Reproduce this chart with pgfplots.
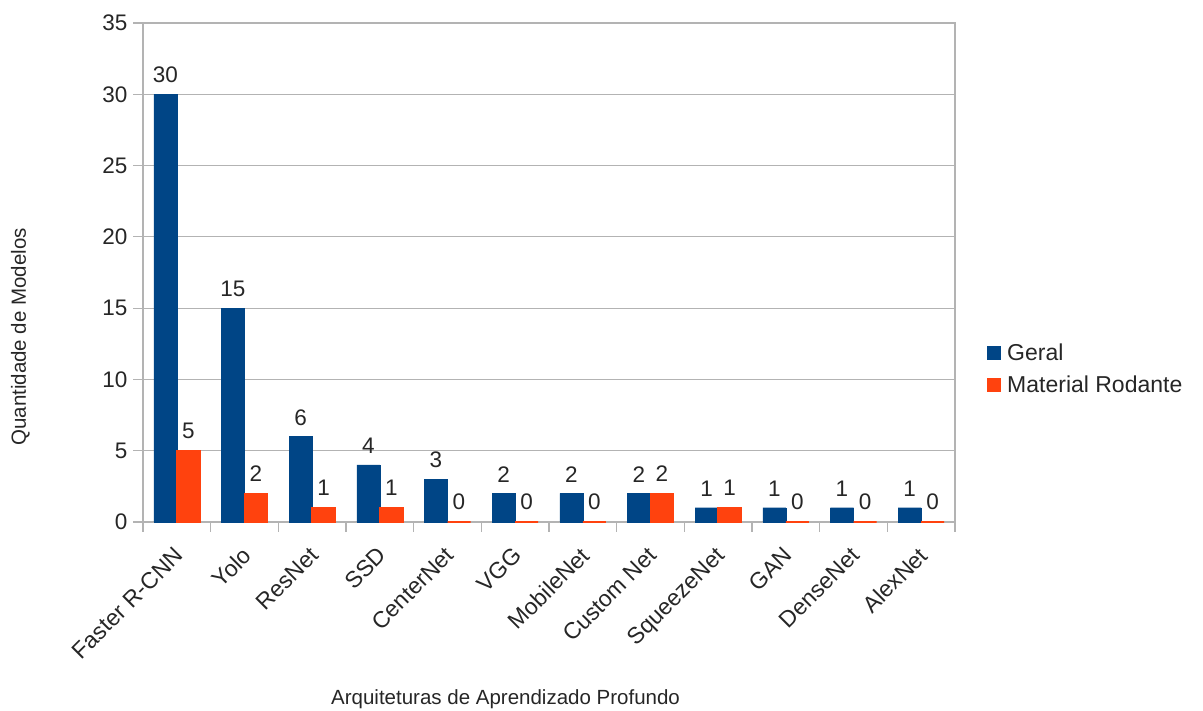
\documentclass[border=0pt]{standalone}
\usepackage{pgfplots}
\pgfplotsset{compat=1.18}
\usepackage{fontspec}
\setmainfont{Liberation Sans}
\definecolor{geral}{HTML}{004586}
\definecolor{rodante}{HTML}{FF420E}
\definecolor{gridgray}{HTML}{B3B3B3}
\begin{document}
\begin{tikzpicture}[x=1pt,y=1pt]
\useasboundingbox (-143,-189) rectangle (1060,522);
\begin{axis}[
  at={(0,0)}, anchor=south west,
  scale only axis, width=812pt, height=499pt,
  xmin=-0.5, xmax=11.5, ymin=0, ymax=35,
  clip=false,
  ytick={0,5,...,35},
  xtick={0,...,11},
  xticklabels={Faster R-CNN,Yolo,ResNet,SSD,CenterNet,VGG,MobileNet,Custom Net,SqueezeNet,GAN,DenseNet,AlexNet},
  minor xtick={-0.5,0.5,...,11.5},
  major x tick style={draw=none},
  minor x tick style={gridgray, line width=1.2pt},
  minor tick length=10pt,
  major tick length=10pt,
  tick align=outside,
  tick pos=left,
  y tick style={gridgray, line width=1.2pt},
  ymajorgrids,
  grid style={gridgray, line width=1.2pt},
  axis line style={gridgray, line width=1.2pt},
  /pgf/number format/assume math mode=true,
  ticklabel style={font=\fontsize{22.5}{26}\selectfont, text=black!85},
  yticklabel style={xshift=-2pt},
  xticklabel style={rotate=45, anchor=north east, font=\fontsize{23}{26}\selectfont, inner sep=3pt, xshift=-9pt, yshift=-4pt},
  xlabel={Arquiteturas de Aprendizado Profundo},
  ylabel={Quantidade de Modelos},
  every axis x label/.style={at={(axis description cs:0.4465,-0.3547)}, anchor=center,
    font=\fontsize{20.5}{24}\selectfont, text=black!85},
  every axis y label/.style={at={(axis description cs:-0.151,0.371)}, anchor=center, rotate=90,
    font=\fontsize{20.5}{24}\selectfont, text=black!85},
  ybar, bar width=0.34,
  nodes near coords,
  every node near coord/.append style={font=\fontsize{22.5}{26}\selectfont, text=black!85, inner sep=4pt, yshift=7pt},
  legend style={at={(1.035,0.307)}, anchor=west, draw=none, fill=none,
    font=\fontsize{23}{26}\selectfont, text=black!85, row sep=10pt},
  legend image code/.code={\fill[#1] (0pt,-6.5pt) rectangle (13pt,6.5pt);},
  legend cell align=left,
]
\addplot[fill=geral, draw=geral, line width=0.4pt, bar shift=-0.17] coordinates {
  (0,30) (1,15) (2,6) (3,4) (4,3) (5,2) (6,2) (7,2) (8,1) (9,1) (10,1) (11,1)};
\addplot[fill=rodante, draw=rodante, line width=1.6pt, bar shift=0.17] coordinates {
  (0,5) (1,2) (2,1) (3,1) (4,0) (5,0) (6,0) (7,2) (8,1) (9,0) (10,0) (11,0)};
\legend{\hspace{4pt}Geral, \hspace{4pt}Material Rodante}
\end{axis}
\end{tikzpicture}
\end{document}
